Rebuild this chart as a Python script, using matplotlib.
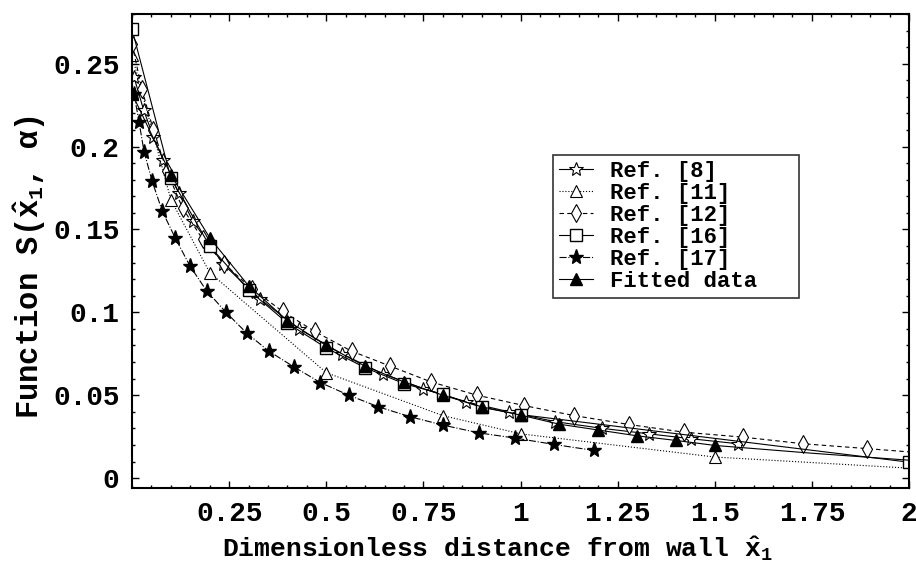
import matplotlib
matplotlib.use('Agg')
import matplotlib.pyplot as plt
from matplotlib.ticker import FixedLocator, MultipleLocator

plt.rcParams['font.family'] = ['Liberation Mono', 'DejaVu Sans']
plt.rcParams['font.weight'] = 'bold'
plt.rcParams['axes.labelweight'] = 'bold'
plt.rcParams['mathtext.fontset'] = 'custom'
plt.rcParams['mathtext.rm'] = 'Liberation Mono:bold'
plt.rcParams['mathtext.it'] = 'Liberation Mono:bold'
plt.rcParams['mathtext.bf'] = 'Liberation Mono:bold'

# Ref. [8] - open stars, solid
x_ref8 = [0.005, 0.03, 0.055, 0.08, 0.12, 0.157, 0.235, 0.33, 0.43, 0.54, 0.645, 0.75,
          0.86, 0.97, 1.09, 1.21, 1.33, 1.44, 1.56]
y_ref8 = [0.242, 0.222, 0.206, 0.192, 0.172, 0.155, 0.129, 0.108, 0.090, 0.075, 0.063, 0.054,
          0.046, 0.040, 0.034, 0.030, 0.0267, 0.0237, 0.0207]

# Ref. [11] - open triangles, dotted (last point has no marker)
x_ref11 = [0.0, 0.1, 0.2, 0.5, 0.8, 1.0, 1.5, 2.0]
y_ref11 = [0.255, 0.168, 0.124, 0.0636, 0.0377, 0.0267, 0.0127, 0.006]

# Ref. [12] - open thin diamonds, dashed (last point has no marker)
x_ref12 = [0.0, 0.025, 0.055, 0.09, 0.13, 0.182, 0.238, 0.31, 0.388, 0.47, 0.565, 0.664,
           0.77, 0.888, 1.01, 1.138, 1.28, 1.42, 1.573, 1.728, 1.891, 2.0]
y_ref12 = [0.262, 0.235, 0.21, 0.185, 0.163, 0.144, 0.129, 0.114, 0.1005, 0.0885, 0.0766, 0.0676,
           0.058, 0.050, 0.0437, 0.0377, 0.0323, 0.0277, 0.0247, 0.0207, 0.0178, 0.0158]

# Ref. [16] - open squares, solid
x_ref16 = [0.0, 0.1, 0.2, 0.3, 0.4, 0.5, 0.6, 0.7, 0.8, 0.9, 1.0, 2.0]
y_ref16 = [0.271, 0.181, 0.140, 0.1135, 0.0935, 0.0785, 0.0666, 0.057, 0.0505, 0.0427, 0.0383, 0.0096]

# Ref. [17] - filled stars, dash-dot
x_ref17 = [0.005, 0.018, 0.031, 0.052, 0.078, 0.111, 0.149, 0.192, 0.242, 0.295, 0.352, 0.416,
           0.485, 0.558, 0.634, 0.716, 0.80, 0.892, 0.987, 1.086, 1.188]
y_ref17 = [0.232, 0.215, 0.197, 0.179, 0.161, 0.145, 0.128, 0.113, 0.100, 0.0875, 0.0766, 0.0672,
           0.0576, 0.050, 0.043, 0.037, 0.032, 0.0273, 0.0241, 0.0203, 0.0167]

# Fitted data - filled triangles, solid (markers up to x = 1.5)
x_fit = [0.0, 0.1, 0.2, 0.3, 0.4, 0.5, 0.6, 0.7, 0.8, 0.9, 1.0, 1.1, 1.2, 1.3, 1.4, 1.5, 1.75, 2.0]
y_fit = [0.232, 0.183, 0.145, 0.116, 0.095, 0.080, 0.0675, 0.058, 0.050, 0.043, 0.038, 0.0325,
         0.029, 0.0255, 0.0227, 0.0197, 0.015, 0.0108]

x_ticks = [0.25, 0.5, 0.75, 1, 1.25, 1.5, 1.75, 2]
y_ticks = [0, 0.05, 0.1, 0.15, 0.2, 0.25]

fig = plt.figure(figsize=(9.16, 5.68), dpi=100)
ax = fig.add_axes([0.1441, 0.1408, 0.8483, 0.8346])

lw = 0.8
ms = 8
ax.plot(x_ref8, y_ref8, '-', color='black', lw=lw, marker='*', ms=ms + 2,
        mfc='white', mec='black', mew=0.8, label='Ref. [8]')
ax.plot(x_ref11, y_ref11, ':', color='black', lw=lw, marker='^', ms=ms,
        mfc='white', mec='black', mew=0.8, markevery=list(range(len(x_ref11) - 1)),
        label='Ref. [11]')
ax.plot(x_ref12, y_ref12, '--', color='black', lw=lw, dashes=(4, 3), marker='d', ms=ms + 1,
        mfc='white', mec='black', mew=0.8, markevery=list(range(len(x_ref12) - 1)),
        label='Ref. [12]')
ax.plot(x_ref16, y_ref16, '-', color='black', lw=lw, marker='s', ms=ms + 1,
        mfc='white', mec='black', mew=1.0, label='Ref. [16]')
ax.plot(x_ref17, y_ref17, '-.', color='black', lw=lw, marker='*', ms=ms + 3,
        mfc='black', mec='black', label='Ref. [17]')
ax.plot(x_fit, y_fit, '-', color='black', lw=lw, marker='^', ms=ms,
        mfc='black', mec='black', markevery=list(range(16)), label='Fitted data')

ax.set_xlim(0, 2)
ax.set_ylim(-0.006, 0.28)
ax.xaxis.set_major_locator(FixedLocator(x_ticks))
ax.yaxis.set_major_locator(FixedLocator(y_ticks))
ax.xaxis.set_minor_locator(MultipleLocator(0.05))
ax.yaxis.set_minor_locator(MultipleLocator(0.01))
ax.set_xticklabels(['{:g}'.format(v) for v in x_ticks])
ax.set_yticklabels(['{:g}'.format(v) for v in y_ticks])
ax.tick_params(which='both', direction='in', top=True, right=True, width=1)
ax.tick_params(which='major', length=5, labelsize=20, pad=9)
ax.tick_params(which='minor', length=2.5)
for s in ax.spines.values():
    s.set_linewidth(1.5)

ax.set_xlabel(r'Dimensionless distance from wall $\hat{x}_1$', fontsize=19, va='center')
ax.set_ylabel(r'Function S($\hat{x}_1$, α)', fontsize=22, va='center')
ax.xaxis.set_label_coords(0.47, -0.127)
ax.yaxis.set_label_coords(-0.131, 0.465)

leg = ax.legend(loc='upper left', bbox_to_anchor=(0.542, 0.4135, 0.316, 0.289),
                mode='expand', borderaxespad=0,
                fontsize=16, frameon=True, fancybox=False, edgecolor='black',
                handlelength=1.5, handletextpad=0.8, labelspacing=0.04, borderpad=0.28)
leg.get_frame().set_linewidth(1.2)

fig.savefig('out.png', dpi=100)
